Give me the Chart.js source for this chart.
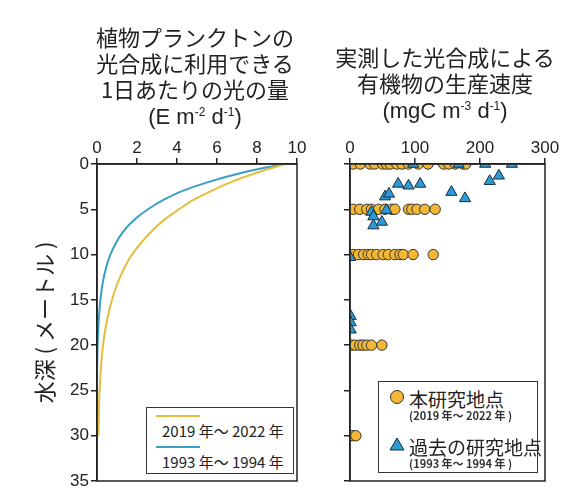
<!DOCTYPE html>
<html>
<head>
<meta charset="utf-8">
<script src="https://cdn.jsdelivr.net/npm/chart.js@4/dist/chart.umd.min.js"></script>
<style>
  body { margin: 0; background: #fff; }
  #wrap { position: relative; width: 588px; height: 498px; font-family: "Noto Sans CJK JP", "Liberation Sans", sans-serif; color: #222; }
  .layer { position: absolute; left: 0; top: 0; width: 588px; height: 498px; }
  .title { position: absolute; text-align: center; font-size: 22px; line-height: 26px; white-space: nowrap; }
  .title .lat { font-family: "Liberation Sans", Arial, sans-serif; }
  .title sup { font-size: 12px; vertical-align: 8px; line-height: 0; }
  .box { position: absolute; border: 1px solid #333; background: #fff; }
  .txt { position: absolute; white-space: nowrap; }
</style>
</head>
<body>
<div id="wrap">
  <div class="layer"><canvas id="lightChart"></canvas></div>
  <div class="layer"><canvas id="prodChart"></canvas></div>

  <div class="title" style="left:95px; top:23px; width:200px;">
    植物プランクトンの<br>光合成に利用できる<br>1日あたりの光の量<br><span class="lat">(E m<sup>-2</sup> d<sup>-1</sup>)</span>
  </div>
  <div class="title" style="left:335px; top:43px; width:220px;">
    実測した光合成による<br>有機物の生産速度<br><span class="lat">(mgC m<sup>-3</sup> d<sup>-1</sup>)</span>
  </div>

  <div class="box" style="left:146px; top:407px; width:146px; height:65px;"></div>
  <div style="position:absolute; left:156px; top:415px; width:44px; height:2px; background:#E5BE3C;"></div>
  <div class="txt" style="left:162px; top:420px; font-size:15px;">2019 年～ 2022 年</div>
  <div style="position:absolute; left:156px; top:446px; width:44px; height:2px; background:#3A9FC6;"></div>
  <div class="txt" style="left:162px; top:451px; font-size:15px;">1993 年～ 1994 年</div>

  <div class="box" style="left:378px; top:381px; width:158px; height:90px;"></div>
  <svg style="position:absolute; left:388px; top:388px;" width="18" height="66">
    <circle cx="9" cy="9" r="6.5" fill="#F3B733" stroke="#333" stroke-width="1"/>
    <polygon points="9,50 16,62 2,62" fill="#2B9BD6" stroke="#1d2d3d" stroke-width="1"/>
  </svg>
  <div class="txt" style="left:409px; top:385px; font-size:19px;">本研究地点</div>
  <div class="txt" style="left:409px; top:407px; font-size:11px; font-weight:bold; color:#333;">(2019 年～ 2022 年 )</div>
  <div class="txt" style="left:409px; top:433px; font-size:19px;">過去の研究地点</div>
  <div class="txt" style="left:409px; top:455px; font-size:11px; font-weight:bold; color:#333;">(1993 年～ 1994 年 )</div>
</div>

<script>
// light profile (E m-2 d-1) against depth (m)
const depthRecent = [0, 0.5, 1, 2, 3, 4, 5, 6, 7.5, 10, 12.5, 15, 17.5, 20, 25, 30];
const lightRecent = [9.4, 8.65, 7.95, 6.7, 5.7, 4.8, 4.1, 3.45, 2.7, 1.75, 1.15, 0.75, 0.48, 0.3, 0.13, 0.07];
const depthPast = [0, 0.5, 1, 2, 3, 4, 5, 6, 7.5, 10, 12.5, 15, 17.5, 20, 22.5, 25];
const lightPast = [9.4, 8.2, 7.2, 5.55, 4.25, 3.3, 2.55, 1.95, 1.3, 0.67, 0.34, 0.17, 0.08, 0.03, 0.01, 0];

// measured production (mgC m-3 d-1)
const prodNow = [5, 16, 31, 38, 50, 56, 62, 72, 80, 90, 105, 120, 144, 152, 162, 174, 178,
                 5, 15, 26, 33, 44, 54, 64, 69, 90, 95, 103, 115, 131,
                 5, 13, 21, 28, 33, 41, 51, 59, 69, 77, 82, 97, 128,
                 0, 2, 8, 15, 20, 26, 33, 49,
                 0, 4, 9];
const prodNowDepth = [0, 0, 0, 0, 0, 0, 0, 0, 0, 0, 0, 0, 0, 0, 0, 0, 0,
                      5, 5, 5, 5, 5, 5, 5, 5, 5, 5, 5, 5, 5,
                      10, 10, 10, 10, 10, 10, 10, 10, 10, 10, 10, 10, 10,
                      20, 20, 20, 20, 20, 20, 20, 20,
                      30, 30, 30];
const prodOld = [97, 167, 208, 249, 215, 229, 74, 90, 108, 156, 177, 54, 60, 33, 56, 36, 49, 36, 0, 1, 1, 1];
const prodOldDepth = [0, 0, 0, 0, 1.9, 1.3, 2.2, 2.4, 2.2, 3.1, 3.8, 3.6, 3.3, 5.3, 5.1, 5.8, 6.4, 6.8, 10.3, 16.8, 17.5, 18.3];

const ink = '#222';
const tickFont = { family: 'Liberation Sans', size: 17 };

function pairs(xs, ys) {
    return xs.map((v, i) => ({ x: v, y: ys[i] }));
}

const frame = {
    id: 'frame',
    afterDraw(chart) {
        const a = chart.chartArea;
        const c = chart.ctx;
        c.save();
        c.strokeStyle = ink;
        c.lineWidth = 1.5;
        c.strokeRect(a.left, a.top, a.right - a.left, a.bottom - a.top);
        c.restore();
    }
};

function axisX(max, step) {
    return {
        type: 'linear', position: 'top', min: 0, max: max,
        ticks: { stepSize: step, font: tickFont, color: ink, padding: -1 },
        grid: { drawOnChartArea: false, tickLength: 6, color: ink, lineWidth: 1.5 },
        border: { color: ink, width: 1.5 },
        afterFit(s) { s.height = 30; }
    };
}

const lightChart = new Chart(document.getElementById('lightChart').getContext('2d'), {
    type: 'scatter',
    data: {
        datasets: [{
            label: '2019 年～ 2022 年',
            data: pairs(lightRecent, depthRecent),
            showLine: true, pointRadius: 0, cubicInterpolationMode: 'monotone',
            borderColor: '#E5BE3C', borderWidth: 2
        }, {
            label: '1993 年～ 1994 年',
            data: pairs(lightPast, depthPast),
            showLine: true, pointRadius: 0, cubicInterpolationMode: 'monotone',
            borderColor: '#3A9FC6', borderWidth: 2
        }]
    },
    options: {
        indexAxis: 'y',
        responsive: true,
        maintainAspectRatio: false,
        animation: false,
        layout: { padding: { left: 17, right: 291, top: 134, bottom: 17 } },
        plugins: { legend: { display: false }, tooltip: { enabled: false } },
        scales: {
            x: axisX(10, 2),
            y: {
                type: 'linear', reverse: true, min: 0, max: 35,
                ticks: { stepSize: 5, font: tickFont, color: ink, padding: 2 },
                grid: { drawOnChartArea: false, tickLength: 6, color: ink, lineWidth: 1.5 },
                border: { color: ink, width: 1.5 },
                title: {
                    display: true, text: '水深 ( メートル )', color: ink,
                    font: { family: 'Noto Sans CJK JP', size: 22 },
                    padding: { top: 14, bottom: 0 }
                },
                afterFit(s) { s.width = 80; }
            }
        }
    },
    plugins: [frame]
});

const prodChart = new Chart(document.getElementById('prodChart').getContext('2d'), {
    type: 'scatter',
    data: {
        datasets: [{
            label: '過去の研究地点',
            data: pairs(prodOld, prodOldDepth),
            pointStyle: 'triangle', pointRadius: 6.5,
            backgroundColor: '#2B9BD6', borderColor: '#1d2d3d', borderWidth: 1,
            order: 0
        }, {
            label: '本研究地点',
            data: pairs(prodNow, prodNowDepth),
            pointStyle: 'circle', pointRadius: 5.2,
            backgroundColor: '#F3B733', borderColor: '#333', borderWidth: 1,
            order: 1
        }]
    },
    options: {
        responsive: true,
        maintainAspectRatio: false,
        animation: false,
        layout: { padding: { left: 340, right: 43, top: 134, bottom: 17 } },
        plugins: { legend: { display: false }, tooltip: { enabled: false } },
        scales: {
            x: axisX(300, 100),
            y: {
                type: 'linear', reverse: true, min: 0, max: 35,
                ticks: { stepSize: 5, display: false },
                grid: { drawOnChartArea: false, tickLength: 6, color: ink, lineWidth: 1.5 },
                border: { color: ink, width: 1.5 },
                afterFit(s) { s.width = 10; }
            }
        }
    },
    plugins: [frame]
});
</script>
</body>
</html>
